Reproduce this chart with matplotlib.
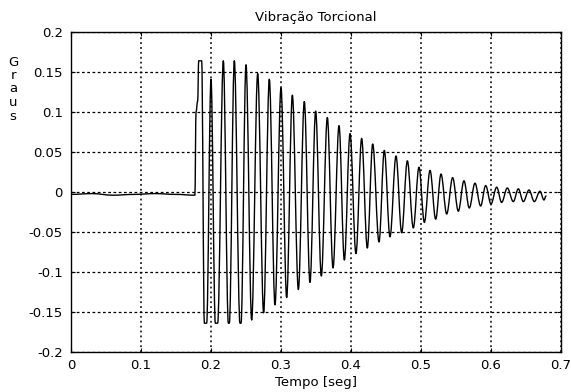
import matplotlib
matplotlib.use("Agg")
import matplotlib.pyplot as plt
from matplotlib.path import Path
from matplotlib.patches import PathPatch

# Signal samples (time [s], angle [graus]):
# baseline, then the successive extremes of the oscillation
t_vals = [0.000, 0.030, 0.060, 0.090, 0.120, 0.150, 0.177, 0.1786, 0.1810,
          0.1824, 0.1867, 0.1905, 0.1938, 0.2000, 0.2062, 0.2095, 0.2176,
          0.2248, 0.2262, 0.2333, 0.2414, 0.2429, 0.2500, 0.2581, 0.2667,
          0.2752, 0.2833, 0.2914, 0.3000, 0.3081, 0.3162, 0.3248, 0.3333,
          0.3414, 0.3495, 0.3576, 0.3662, 0.3743, 0.3829, 0.3905, 0.3986,
          0.4071, 0.4152, 0.4233, 0.4310, 0.4400, 0.4476, 0.4557, 0.4643,
          0.4724, 0.4805, 0.4890, 0.4971, 0.5048, 0.5129, 0.5210, 0.5286,
          0.5367, 0.5452, 0.5533, 0.5614, 0.5690, 0.5771, 0.5852, 0.5924,
          0.6000, 0.6081, 0.6152, 0.6233, 0.6319, 0.6390, 0.6462, 0.6543,
          0.6619, 0.6700, 0.6757, 0.6786]
y_vals = [-0.003, -0.002, -0.004, -0.003, -0.002, -0.003, -0.004, 0.100, 0.114,
          0.164, 0.164, -0.164, -0.164, 0.141, -0.164, -0.164, 0.164,
          -0.164, -0.164, 0.164, -0.164, -0.164, 0.159, -0.160, 0.148,
          -0.151, 0.141, -0.141, 0.130, -0.132, 0.121, -0.122, 0.113,
          -0.113, 0.101, -0.105, 0.093, -0.095, 0.083, -0.085, 0.073,
          -0.077, 0.067, -0.070, 0.060, -0.0625, 0.052, -0.056, 0.045,
          -0.051, 0.039, -0.045, 0.031, -0.038, 0.027, -0.034, 0.0225,
          -0.0275, 0.018, -0.024, 0.014, -0.020, 0.011, -0.0175, 0.008,
          -0.015, 0.006, -0.013, 0.005, -0.012, 0.004, -0.012, 0.0025,
          -0.012, 0.001, -0.010, -0.005]

x_ticks = [0, 0.1, 0.2, 0.3, 0.4, 0.5, 0.6, 0.7]
x_tick_labels = ["0", "0.1", "0.2", "0.3", "0.4", "0.5", "0.6", "0.7"]
y_ticks = [-0.2, -0.15, -0.1, -0.05, 0, 0.05, 0.1, 0.15, 0.2]
y_tick_labels = ["-0.2", "-0.15", "-0.1", "-0.05", "0", "0.05", "0.1", "0.15", "0.2"]

plt.rcParams['font.family'] = ['DejaVu Sans']
FS = 9.5

fig = plt.figure(figsize=(5.71, 3.92), dpi=100)
ax = fig.add_axes([71 / 571, 40 / 392, 490 / 571, 320 / 392])

# Smooth curve through the read samples (cubic segments with flat tangents
# at each sample, so the oscillation looks like the original sine wave)
verts = [(t_vals[0], y_vals[0])]
codes = [Path.MOVETO]
for i in range(1, len(t_vals)):
    t0, y0 = t_vals[i - 1], y_vals[i - 1]
    t1, y1 = t_vals[i], y_vals[i]
    dt = t1 - t0
    verts += [(t0 + dt * 0.36, y0), (t1 - dt * 0.36, y1), (t1, y1)]
    codes += [Path.CURVE4, Path.CURVE4, Path.CURVE4]
ax.add_patch(PathPatch(Path(verts, codes), facecolor='none', edgecolor='black',
                       linewidth=1.0, joinstyle='round', capstyle='round'))

ax.set_xlim(0, 0.7)
ax.set_ylim(-0.2, 0.2)
ax.set_xticks(x_ticks)
ax.set_xticklabels(x_tick_labels)
ax.set_yticks(y_ticks)
ax.set_yticklabels(y_tick_labels)
ax.tick_params(direction='in', top=True, right=True, labelsize=FS, length=3,
               width=0.8, colors='black')
ax.tick_params(axis='x', pad=5)
ax.tick_params(axis='y', pad=6)
ax.xaxis.grid(True, color='black', linestyle=(0, (1.2, 2.0)), linewidth=1.1)
ax.yaxis.grid(True, color='black', linestyle=(0, (2.2, 2.0)), linewidth=0.9)
for s in ax.spines.values():
    s.set_linewidth(1.0)

ax.set_title("Vibração Torcional", fontsize=FS, pad=8)
ax.set_xlabel("Tempo [seg]", fontsize=FS, labelpad=3)
fig.text(13 / 571, 1 - 89 / 392, "G\nr\na\nu\ns", ha='center', va='center',
         fontsize=FS, linespacing=1.05)

fig.savefig("out.png", dpi=100)
